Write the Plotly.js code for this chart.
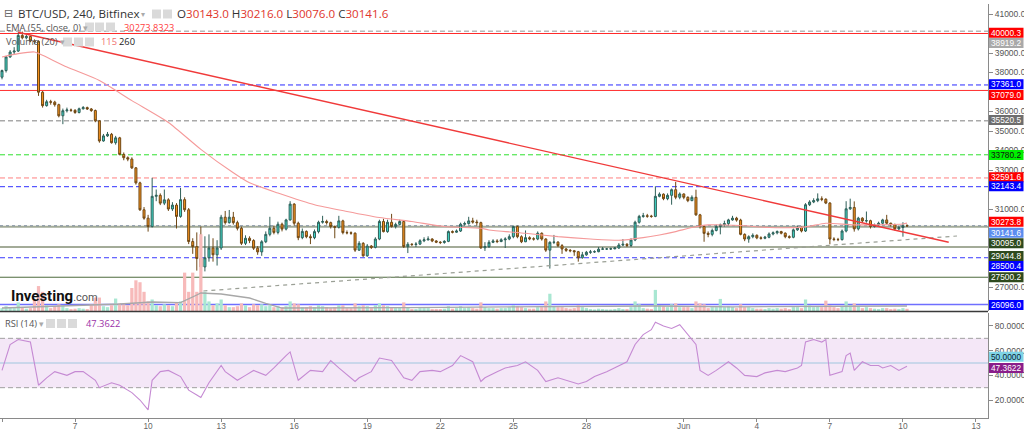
<!DOCTYPE html>
<html><head><meta charset="utf-8">
<script src="https://cdn.plot.ly/plotly-3.0.1.min.js"></script>
<style>html,body{margin:0;padding:0;background:#fff}#chart{width:1024px;height:431px}</style>
</head><body><div id="chart"></div>
<script>
// ---------------- DATA (BTC/USD 4h, Bitfinex) ----------------
const firstOpen = 37760;
const closes = [
38100,38800,39050,39100,39900,39780,39850,39620,39600,36990,
36300,36500,36480,36350,35780,36040,36080,36060,35950,36140,
36200,36130,36050,35520,34490,34750,34830,34400,34650,33800,
33630,33560,33110,32340,30960,30530,30100,31650,31700,31300,
31470,31000,31200,30620,31480,30960,29330,29070,28460,28030,
28500,29000,28650,29000,30580,30300,30580,30300,30010,29240,
29500,29380,28990,28800,29320,29700,30010,29800,30220,29970,
30440,31250,30270,29530,29850,29580,29530,29840,30320,30360,
30300,30100,30060,30390,29790,29780,29760,28890,29240,28600,
29100,29030,29460,30360,29840,30320,30100,30210,30360,29070,
29190,29180,29200,29370,29420,29460,29360,29300,29280,29340,
29840,29810,29870,30220,30250,30390,30330,30300,29010,29070,
29290,29360,29330,29420,29460,29580,30100,29580,29320,29530,
29470,29460,29755,29460,28890,29290,29300,29120,28950,28880,
28860,28810,28500,28650,28780,28800,28810,28940,28950,28950,
28960,29000,29150,29190,29130,29410,30320,30620,30650,30630,
30620,31650,31760,31530,31700,31990,31600,31770,31600,31430,
31600,30700,30100,29750,29700,29900,30100,30190,30250,30440,
30530,30430,29700,29460,29580,29650,29520,29500,29550,29720,
29780,29840,29760,29580,29550,29930,30048,29870,31220,31360,
31430,31520,31500,31305,29460,29440,29430,29870,31010,31080,
29980,30530,30390,30400,30100,30180,30270,30440,30270,30200,
29980,30050,30143,30141.6];
const highs = [
38150,38850,39150,39300,40050,40100,39950,39900,39700,39650,
37050,36600,36600,36550,36400,36150,36200,36150,36120,36200,
36280,36250,36180,36100,35550,34850,34950,34900,34750,34700,
33900,33700,33650,33150,32400,31100,30700,32600,32000,31800,
32000,31550,31350,31300,32080,31600,31050,29500,29800,30100,
29600,29700,29500,29400,30700,30900,30950,30850,30400,30100,
29650,29600,29450,29100,29400,29850,30600,30150,30350,30300,
30500,31400,31300,30350,30000,29900,29700,29950,30400,30650,
30450,30350,30150,30650,30450,29900,29850,29800,29350,29300,
29200,29150,29550,30450,30500,30450,30750,30300,30450,30400,
29300,29250,29300,29450,29550,29600,29500,29400,29350,29400,
29900,29900,29950,30300,30350,30600,30550,30450,30350,29300,
29400,29450,29450,29500,29550,29700,30150,30150,29650,29900,
29600,29550,29850,29800,29500,29350,29670,29350,29200,29000,
28950,28900,28850,28800,28850,28900,28880,29050,29050,29000,
29020,29050,29250,29460,29250,29500,30400,30700,30800,30750,
30700,32166,31850,31800,31800,32050,32390,31850,31800,31650,
31700,31990,30750,30150,29850,30000,30200,30250,30400,30500,
30650,30600,30500,29750,29650,29750,29700,29600,29620,29800,
29850,29900,29880,29800,29650,30000,30150,30100,31300,31450,
31550,31800,31650,31550,31350,29550,29520,29950,31400,31530,
31390,30600,30580,30870,30450,30250,30350,30500,30700,30300,
30250,30150,30320,30216];
const lows = [
37650,38000,38750,38900,39050,39700,39700,39550,39450,36800,
36200,36250,36350,36250,35700,35350,35950,35980,35880,35900,
36100,36080,35980,35450,34400,34450,34700,34350,34300,33750,
33500,33450,33050,32250,30900,30450,29840,30050,31400,31200,
31200,30900,30900,30000,30550,30850,29200,28700,27840,27400,
27800,28300,28300,28100,28900,30200,30250,30200,29900,29150,
29150,29250,28900,28650,28600,29250,29600,29700,29700,29850,
29900,30400,30150,29400,29450,29500,29200,29450,29750,30250,
30200,30000,29500,30000,29700,29700,29680,28800,28850,28550,
28550,28950,28980,29400,29800,29780,30050,30000,30150,29000,
28740,29100,29050,29150,29300,29380,29300,29250,29200,29220,
29300,29750,29780,29820,30150,30200,30250,30150,28950,28850,
29000,29250,29250,29300,29000,29400,29500,29500,29250,29300,
29400,29380,29400,29380,28800,27946,29200,29050,28700,28800,
28780,28600,28300,28450,28600,28700,28750,28780,28900,28900,
28900,28930,28950,29100,29050,29050,29350,30250,30550,30550,
30550,30580,31600,31450,31450,31220,31500,31500,31500,31350,
31400,30650,30000,29320,29550,29600,29850,29700,30100,30150,
30400,30350,29650,29350,29270,29500,29450,29430,29450,29500,
29650,29700,29700,29500,29480,29500,29880,29800,29820,31150,
31300,31350,31400,31250,29190,29350,29350,29380,29800,30950,
29840,29900,30300,30300,30000,30050,30150,30200,30200,30100,
29900,29920,29580,30076];
const volumes = [
150,250,200,150,450,200,120,150,600,1300,
1000,300,150,250,350,300,150,100,120,150,
120,100,350,700,700,250,200,300,650,400,
350,300,1200,1600,1500,1000,500,600,300,250,
350,300,250,450,500,2000,1000,2000,1000,4000,
1000,500,300,400,600,300,200,200,250,400,
300,200,350,300,350,250,300,200,250,200,
250,500,400,350,200,200,250,200,300,250,
200,150,200,300,300,150,150,400,250,300,
250,150,300,400,300,250,200,150,200,450,
200,100,100,150,150,150,100,100,100,120,
250,120,150,250,150,200,150,120,450,200,
150,150,120,150,150,200,300,250,200,150,
120,120,200,200,500,900,250,200,200,150,
120,150,300,200,150,100,80,120,100,80,
80,100,150,100,100,200,500,350,150,120,
100,1100,300,250,200,350,400,200,200,200,
150,500,400,350,150,200,200,630,200,250,
200,150,350,200,200,150,120,120,100,150,
120,150,120,150,100,200,200,150,600,300,
200,250,200,540,300,200,150,250,500,300,
400,250,150,200,150,120,100,150,150,100,
120,100,150,115];
// volume moving average (20) read at candle indices
const volMaIdx = [0,14,29,37,44,48,49,54,61,65,69,100,134,161,180,204,223];
const volMaVal = [156,260,365,469,432,834,938,886,677,401,156,180,230,260,220,240,260];
// EMA(55) read at candle indices
const emaIdx = [0,4,8,10,16,24,32,41,49,57,61,68,77,85,93,101,109,118,120,129,137,145,152,158,162,166,170,174,182,189,198,203,210,222,223];
const emaVal = [38796,38968,39054,38882,38280,37590,36558,35438,34060,32855,32340,31821,31219,30874,30564,30358,30100,30013,29927,29755,29583,29462,29394,29531,29669,29841,30048,30186,30151,30048,30083,30270,30186,30230,30274];
// RSI(14) read at candle indices
const rsiIdx = [0,2,4,7,9,11,13,16,18,20,23,24,27,29,32,34,36,37,39,41,44,46,48,49,51,54,55,58,60,62,65,67,70,71,73,76,79,81,83,87,88,91,93,96,99,101,103,106,108,111,113,116,118,119,122,124,127,129,132,134,137,139,142,144,146,149,151,154,156,158,160,161,163,165,167,169,171,172,174,176,179,181,183,186,188,191,193,196,197,198,200,202,203,204,207,208,209,210,212,214,216,217,219,221,223];
const rsiVal = [44,65,69,67,32,38,43,40,43,43,36,30,34,32,26,20,12,36,43,44,39,28,24,22,34,48,43,36,40,44,40,46,56,59,36,44,43,52,46,35,38,43,54,52,38,36,43,44,43,48,56,51,35,38,43,46,48,51,44,35,38,36,33,35,39,43,46,51,65,73,77,83,80,78,81,73,65,44,40,44,51,46,40,39,42,44,43,46,48,67,69,67,69,40,43,56,58,44,51,48,48,46,48,44,47.3622];
// trend lines
const redTrend = {t: ['2022-05-04 15:48','2022-06-11 21:07'], p: [40062, 29292]};
const greyTrend = {t: ['2022-05-12 06:30','2022-06-12 05:17'], p: [26795, 29615]};
// horizontal levels
const levelPrices = [40000.3, 40120, 37361.0, 37079.0, 35520.5, 33780.2, 32591.6, 32143.4, 30095.0, 30141.6, 29044.8, 28500.4, 27500.2, 26096.0];
const tagTexts = ['40000.3','38919.2','37361.0','37079.0','35520.5','33780.2','32591.6','32143.4','30273.8','30141.6','30095.0','29044.8','28500.4','27500.2','26096.0'];
const rsiTagTexts = ['50.0000','47.3622'];
const priceTicks = [27000,31000,33000,34000,35000,36000,38000,39000,41000];
const rsiTicks = [20,40,60,80];
const dateTicks = ['2022-05-04','2022-05-07','2022-05-10','2022-05-13','2022-05-16','2022-05-19','2022-05-22','2022-05-25','2022-05-28','2022-06-01','2022-06-04','2022-06-07','2022-06-10','2022-06-13'];
const dateTickLabels = ['4','7','10','13','16','19','22','25','28','Jun','4','7','10','13'];

// ---------------- BUILD ----------------
const T0 = Date.UTC(2022,4,4,0,0,0);
function tAt(i){ const d = new Date(T0 + i*4*3600e3); return d.toISOString().slice(0,16).replace('T',' '); }
const times = closes.map((_,i)=>tAt(i));
const opens = closes.map((c,i)=> i===0 ? firstOpen : closes[i-1]);

const W = 988, PB = 418, PH = 414;
const px = x => x / W;
const py = y => (PB - y) / PH;
const FONT = 'Liberation Sans, Arial, sans-serif';
const HFONT = 'Open Sans, sans-serif';

const traces = [];
traces.push({type:'bar', x: times, y: volumes, yaxis:'y3', xaxis:'x',
  marker:{color: volumes.map((v,i)=> closes[i] >= opens[i] ? '#a9e7d2' : '#f7baba'), line:{width:0}},
  width: 4*3600e3*0.8, hoverinfo:'skip'});
traces.push({type:'scatter', mode:'lines', x: volMaIdx.map(tAt), y: volMaVal, yaxis:'y3',
  line:{color:'#a8a8a8', width:1.3}, hoverinfo:'skip'});
traces.push({type:'scatter', mode:'lines', x: emaIdx.map(tAt), y: emaVal, yaxis:'y',
  line:{color:'#f59a9a', width:1.1, shape:'spline', smoothing:0.6}, hoverinfo:'skip'});
traces.push({type:'scatter', mode:'lines', x: greyTrend.t, y: greyTrend.p, yaxis:'y',
  line:{color:'#9a9f95', width:1.2, dash:'4px,4px'}, hoverinfo:'skip'});
traces.push({type:'candlestick', x: times, open: opens, high: highs, low: lows, close: closes,
  xaxis:'x', yaxis:'y', whiskerwidth:0,
  increasing:{line:{color:'#2f5f58', width:1}, fillcolor:'#3fd9c9'},
  decreasing:{line:{color:'#6e4714', width:1}, fillcolor:'#f7931e'}, hoverinfo:'skip'});
traces.push({type:'scatter', mode:'lines', x: redTrend.t, y: redTrend.p, yaxis:'y',
  line:{color:'#f03a3a', width:1.4}, hoverinfo:'skip'});
traces.push({type:'scatter', mode:'lines', x: rsiIdx.map(tAt), y: rsiVal, yaxis:'y2',
  line:{color:'#c58ad3', width:1.1}, hoverinfo:'skip'});

const levelStyle = [
  {c:'#ff2a2a', d:'solid', w:1},
  {c:'#b8b8b8', d:'5px,3px', w:1.5},
  {c:'#2a2aff', d:'5px,3px', w:1},
  {c:'#ff3030', d:'solid', w:1},
  {c:'#a9a9a9', d:'5px,3px', w:1.5},
  {c:'#2ee02e', d:'5px,3px', w:1},
  {c:'#ff7f7f', d:'5px,3px', w:1},
  {c:'#3030ff', d:'5px,3px', w:1},
  {c:'#a3ab98', d:'solid', w:2},
  {c:'#7f8fa0', d:'dot', w:1},
  {c:'#a3ab98', d:'solid', w:2},
  {c:'#3a3aff', d:'5px,3px', w:1},
  {c:'#4d6b3c', d:'solid', w:1},
  {c:'#6f6fff', d:'solid', w:1.5}
];
const shapes = [];
shapes.push({type:'rect', xref:'paper', yref:'y2', x0:0, x1:1, y0:30, y1:70, fillcolor:'rgba(214,170,226,0.28)', line:{width:0}, layer:'below'});
shapes.push({type:'line', xref:'paper', yref:'y2', x0:0, x1:1, y0:70, y1:70, line:{color:'#a0a0a0', width:1, dash:'5px,3px'}, layer:'below'});
shapes.push({type:'line', xref:'paper', yref:'y2', x0:0, x1:1, y0:30, y1:30, line:{color:'#a0a0a0', width:1, dash:'5px,3px'}, layer:'below'});
shapes.push({type:'line', xref:'paper', yref:'y2', x0:0, x1:1, y0:50, y1:50, line:{color:'#9fc6de', width:1}, layer:'below'});
levelPrices.forEach((p,k)=>{
  const s = levelStyle[k];
  shapes.push({type:'line', xref:'paper', yref:'y', x0:0, x1:1, y0:p, y1:p, line:{color:s.c, width:s.w, dash:s.d}, layer:'below'});
});
shapes.push({type:'line', xref:'paper', yref:'paper', x0:0, x1:1, y0:py(311.5), y1:py(311.5), line:{color:'#3a3a3a', width:1.5}, layer:'above'});

const annotations = [];
const tagStyle = [
  [32.7,'#ff0000','#fff'],[43,'#a9a9a9','#fff'],[84.3,'#0000ff','#fff'],[95,'#ff0000','#fff'],
  [120,'#6e6e6e','#fff'],[155,'#00f000','#111'],[177.3,'#ff0000','#fff'],[186.3,'#0000ff','#fff'],
  [221.7,'#ff0000','#fff'],[232.7,'#5b8def','#fff'],[243.3,'#2e4a1e','#fff'],[256,'#2e4a1e','#fff'],
  [266,'#0000ff','#fff'],[277.3,'#2e4a1e','#fff'],[305,'#0000ff','#fff']
];
const rsiTagStyle = [[356.7,'#7ed3e6','#0a2030'],[368,'#8a1d8a','#fff']];
function addTag(text, st){
  const [y,bg,fg] = st;
  shapes.push({type:'rect', xref:'paper', yref:'paper', x0:px(989), x1:px(1023.5), y0:py(y+5), y1:py(y-5), fillcolor:bg, line:{width:0}, layer:'above'});
  annotations.push({xref:'paper', yref:'paper', x:px(1006), y:py(y), text:text, showarrow:false, xanchor:'center', yanchor:'middle',
    font:{family:FONT, size:8.3, color:fg}});
}
tagTexts.forEach((t,k)=>addTag(t, tagStyle[k]));
rsiTagTexts.forEach((t,k)=>addTag(t, rsiTagStyle[k]));

function txt(x, y, text, font){
  annotations.push({xref:'paper', yref:'paper', x:px(x), y:py(y), text:text, showarrow:false,
    xanchor:'left', yanchor:'middle', font:font});
}
function icons(xs, y){
  xs.forEach(x=>{
    shapes.push({type:'rect', xref:'paper', yref:'paper', x0:px(x), x1:px(x+9), y0:py(y+4.5), y1:py(y-4.5), fillcolor:'#dadada', line:{width:0}, layer:'above'});
  });
}
txt(2, 14, '⊟', {family:'DejaVu Sans', size:11, color:'#666'});
txt(16, 14, 'BTC/USD, 240, Bitfinex', {family:HFONT, size:11.6, color:'#333'});
txt(139, 14.5, '▾', {family:'DejaVu Sans', size:8, color:'#aaa'});
icons([152,163], 14);
const R = '#e0362c';
txt(175, 14, 'O<span style="color:'+R+'">30143.0</span> H<span style="color:'+R+'">30216.0</span> L<span style="color:'+R+'">30076.0</span> C<span style="color:'+R+'">30141.6</span>', {family:HFONT, size:11.6, color:'#333'});
txt(4, 27, 'EMA (55, close, 0) <span style="color:#aaa">▾</span>', {family:HFONT, size:9.3, color:'#555'});
icons([85,95,106], 27);
txt(122, 27, '30273.8323', {family:HFONT, size:9.3, color:'#ff4040'});
txt(4, 42, 'Volume (20) <span style="color:#aaa">▾</span>', {family:HFONT, size:9.3, color:'#555'});
icons([63,74,85], 42);
txt(99, 42, '115', {family:HFONT, size:9.3, color:'#f07070'});
txt(117, 42, '260', {family:HFONT, size:9.3, color:'#222'});
txt(3, 323.5, 'RSI (14) <span style="color:#aaa">▾</span>', {family:HFONT, size:9.3, color:'#555'});
icons([46,57,68], 323.5);
txt(84, 323.5, '47.3622', {family:HFONT, size:9.3, color:'#9b2fa8'});
txt(9, 296, '<b>Investing</b><span style="font-size:11px;color:#555">.com</span>', {family:'Roboto, sans-serif', size:15, color:'#111'});

const layout = {
  width:1024, height:431, margin:{l:0, r:36, t:4, b:13},
  paper_bgcolor:'#fff', plot_bgcolor:'#fff', showlegend:false, hovermode:false,
  xaxis:{type:'date', range:['2022-05-03 22:02','2022-06-13 11:50'], anchor:'y2', domain:[0,1],
    rangeslider:{visible:false}, showgrid:false, zeroline:false,
    showline:true, linecolor:'#8a8a8a', linewidth:1, ticks:'outside', ticklen:3, tickcolor:'#8a8a8a',
    ticklabelstandoff:-3,
    tickvals:dateTicks, ticktext:dateTickLabels, tickfont:{family:FONT, size:8.3, color:'#666'}},
  yaxis:{domain:[py(311), 1], range:[25769, 41513], side:'right', anchor:'x', showgrid:false, zeroline:false,
    showline:true, linecolor:'#8a8a8a', ticks:'outside', ticklen:4, tickcolor:'#8a8a8a',
    tickvals:priceTicks, tickformat:'.1f', tickfont:{family:FONT, size:8.5, color:'#555'}},
  yaxis2:{domain:[0, py(313)], range:[5.43, 90.53], side:'right', anchor:'x', showgrid:false, zeroline:false,
    showline:true, linecolor:'#8a8a8a', ticks:'outside', ticklen:4, tickcolor:'#8a8a8a',
    tickvals:rsiTicks, tickformat:'.4f', tickfont:{family:FONT, size:8.5, color:'#555'}},
  yaxis3:{overlaying:'y', range:[0,16000], visible:false, showgrid:false, zeroline:false},
  shapes: shapes, annotations: annotations
};
Plotly.newPlot('chart', traces, layout, {staticPlot:true, displayModeBar:false});
</script></body></html>
